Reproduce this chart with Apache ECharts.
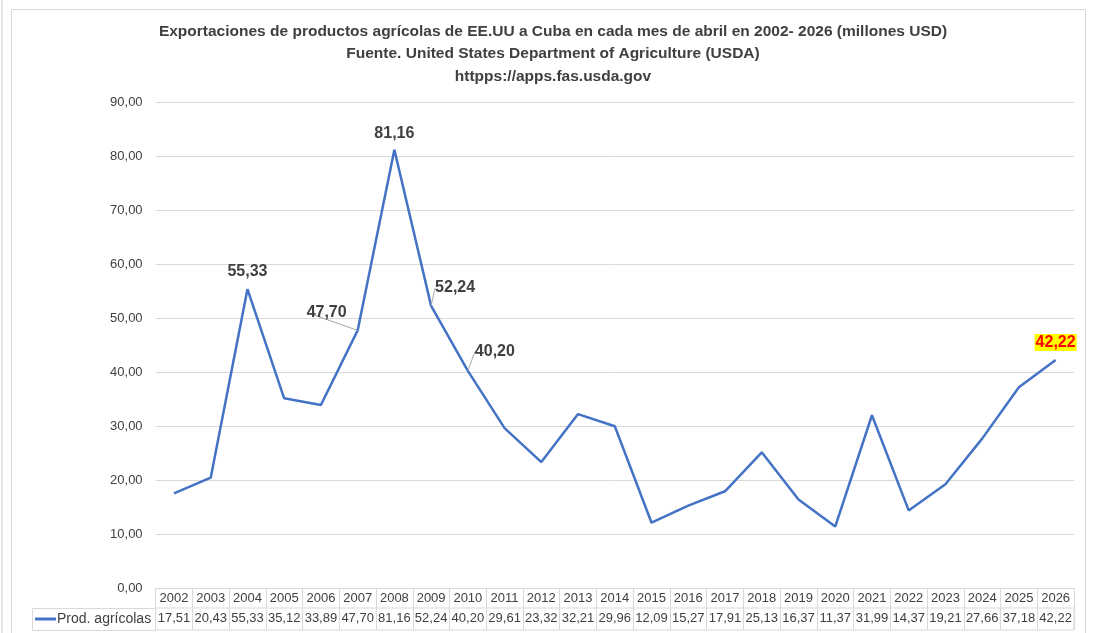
<!DOCTYPE html>
<html lang="es">
<head>
  <meta charset="UTF-8">
  <title>Exportaciones agrícolas EE.UU a Cuba</title>
  <script src="https://cdn.jsdelivr.net/npm/echarts@6/dist/echarts.min.js"></script>
  <style>
    html, body { margin: 0; padding: 0; background: #fff; }
    #chart { width: 1094px; height: 633px; }
  </style>
</head>
<body>
  <div id="chart"></div>
  <script>
    var years = ['2002','2003','2004','2005','2006','2007','2008','2009','2010','2011','2012','2013',
                 '2014','2015','2016','2017','2018','2019','2020','2021','2022','2023','2024','2025','2026'];
    var values = [17.51, 20.43, 55.33, 35.12, 33.89, 47.70, 81.16, 52.24, 40.20, 29.61, 23.32, 32.21,
                  29.96, 12.09, 15.27, 17.91, 25.13, 16.37, 11.37, 31.99, 14.37, 19.21, 27.66, 37.18, 42.22];
    var seriesName = 'Prod. agrícolas';
    var labelled = ['2004', '2007', '2008', '2009', '2010', '2026'];

    var FONT = '"Liberation Sans", Arial, sans-serif';
    var GRID = '#d9d9d9';

    function fmt(v) { return v.toFixed(2).replace('.', ','); }

    // etiquetas desplazadas con línea guía
    var moved = { '2007': [-31, -2], '2009': [24, -2], '2010': [27, -3] };

    var lineData = values.map(function (v, i) {
      var y = years[i];
      if (labelled.indexOf(y) < 0) return v;
      var item = { value: v, label: { show: true, position: 'top', distance: 8 } };
      if (y === '2004') item.label.distance = 10;
      if (y === '2026') {
        item.label.color = '#ff0000';
        item.label.backgroundColor = '#ffff00';
        item.label.padding = [1, 1, 0, 1];
        item.label.distance = 9;
      }
      if (moved[y]) item.labelLine = { show: true };
      return item;
    });

    var chart = echarts.init(document.getElementById('chart'));
    chart.setOption({
      animation: false,
      textStyle: { fontFamily: FONT },
      title: {
        text: 'Exportaciones de productos agrícolas de EE.UU a Cuba en cada mes de abril en 2002- 2026 (millones USD)\nFuente. United States Department of Agriculture (USDA)\nhttpps://apps.fas.usda.gov',
        left: 548, top: 15, textAlign: 'center',
        textStyle: { fontFamily: FONT, fontSize: 15.5, fontWeight: 'bold', color: '#404040', lineHeight: 22.5 }
      },
      legend: {
        left: 35, top: 612, padding: 0, icon: 'rect', itemWidth: 21, itemHeight: 3, itemGap: 2,
        data: [seriesName],
        textStyle: { fontFamily: FONT, fontSize: 14, color: '#404040', padding: [0, 0, 0, -4] }
      },
      graphic: [
        { type: 'rect', shape: { x: 11.5, y: 9.5, width: 1074, height: 640 }, style: { fill: 'none', stroke: GRID, lineWidth: 1 } },
        { type: 'rect', shape: { x: 1, y: 0, width: 2, height: 633 }, style: { fill: '#e6e6e6' } },
        { type: 'rect', shape: { x: 32.5, y: 608.5, width: 123, height: 22 }, style: { fill: 'none', stroke: GRID, lineWidth: 1 } }
      ],
      grid: [
        { left: 155.6, right: 20, top: 102, bottom: 45 },
        { left: 155.6, right: 20, top: 608, height: 22, show: true, borderColor: GRID, borderWidth: 1 }
      ],
      xAxis: [
        {
          type: 'category', gridIndex: 0, data: years, boundaryGap: true,
          axisLine: { lineStyle: { color: GRID } },
          axisTick: { show: true, interval: 0, length: 20, lineStyle: { color: GRID } },
          axisLabel: { interval: 0, margin: 4, fontSize: 13, color: '#404040' }
        },
        {
          type: 'category', gridIndex: 1, data: years, boundaryGap: true,
          axisLine: { show: false },
          axisTick: { show: true, inside: true, interval: 0, length: 22, lineStyle: { color: GRID } },
          axisLabel: {
            interval: 0, margin: -18, fontSize: 13, color: '#404040',
            formatter: function (v, i) { return fmt(values[i]); }
          }
        }
      ],
      yAxis: [
        {
          type: 'value', gridIndex: 0, min: 0, max: 90, interval: 10,
          axisLine: { show: false }, axisTick: { show: false },
          splitLine: { lineStyle: { color: GRID } },
          axisLabel: { margin: 13, fontSize: 13, color: '#404040', formatter: function (v) { return fmt(v); } }
        },
        { type: 'value', gridIndex: 1, show: false }
      ],
      series: [{
        name: seriesName,
        type: 'line',
        xAxisIndex: 0, yAxisIndex: 0,
        data: lineData,
        symbol: 'circle', symbolSize: 0, showSymbol: true,
        lineStyle: { color: '#4472c4', width: 2.5 },
        itemStyle: { color: '#4472c4' },
        label: { show: false, fontSize: 16, fontWeight: 'bold', color: '#404040', formatter: function (p) { return fmt(p.value); } },
        labelLine: { show: false, lineStyle: { color: '#a6a6a6', width: 1 } },
        labelLayout: function (p) {
          var d = moved[years[p.dataIndex]];
          return d ? { dx: d[0], dy: d[1] } : {};
        }
      }]
    });
  </script>
</body>
</html>
